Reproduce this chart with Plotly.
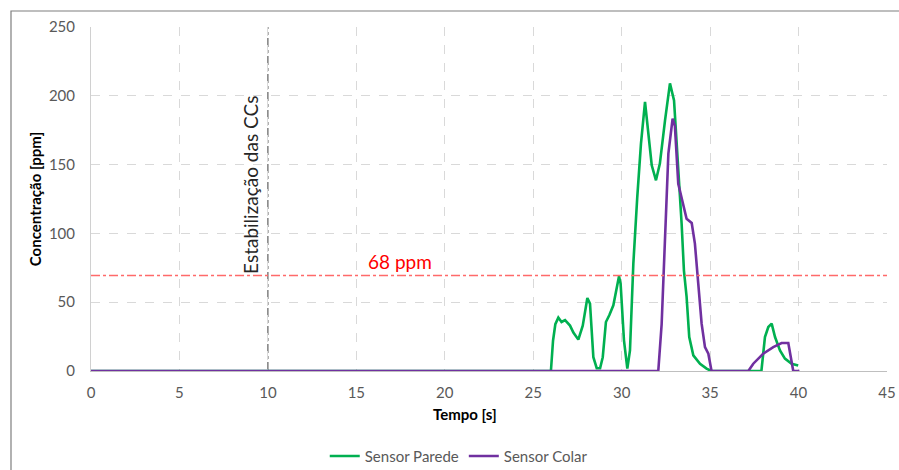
import plotly.graph_objects as go

# Data
t_parede = [0, 26.0, 26.12, 26.25, 26.42, 26.6, 26.8, 27.08, 27.27, 27.55, 27.8, 28.06, 28.21,
            28.4, 28.59, 28.78, 28.93, 29.11, 29.3, 29.53, 29.85, 29.94, 30.13, 30.32, 30.47,
            30.66, 30.88, 31.09, 31.32, 31.5, 31.7, 31.94, 32.16, 32.45, 32.73, 32.96, 33.2,
            33.39, 33.52, 33.67, 33.82, 34.05, 34.43, 34.8, 35.08, 37.9, 38.1, 38.29, 38.48,
            38.67, 38.95, 39.23, 39.61, 39.98]
c_parede = [0, 0, 22, 34, 38.8, 35.6, 37, 33, 28, 22.8, 33, 53, 49,
            10, 2, 2, 10, 35.6, 40.5, 47.7, 68.8, 63.5, 22.3, 1.7, 15,
            78, 126, 165, 195.5, 175, 149.5, 138.6, 150.7, 182, 209, 196.7, 150.7,
            107, 73, 54, 24.7, 11.4, 5.3, 1.7, 0, 0, 24.7, 32, 34.4,
            24.7, 15, 9, 5.3, 4]

t_colar = [0, 32.07, 32.26, 32.45, 32.64, 32.88, 33.01, 33.2, 33.48, 33.67, 33.96, 34.14,
           34.33, 34.52, 34.71, 34.9, 35.08, 37.16, 37.44, 38.0, 38.57, 39.04, 39.42, 39.7, 40.05]
c_colar = [0, 0, 34, 102, 158, 183.4, 178, 136, 121.6, 110.7, 107.6, 92.6,
           63.5, 34.4, 17.4, 12.6, 0, 0, 5.3, 12.6, 17.4, 20.3, 20.3, 0, 0]

limite_ppm = 69.4
limite_label = "68 ppm"
t_estabilizacao = 10
x_ticks = [0, 5, 10, 15, 20, 25, 30, 35, 40, 45]
y_ticks = [0, 50, 100, 150, 200, 250]

FONT = "Lato, 'Open Sans', sans-serif"
TICK_COLOR = "#595959"

fig = go.Figure()
fig.add_trace(go.Scatter(x=t_parede, y=c_parede, mode="lines", name="Sensor Parede",
                         line=dict(color="#00B050", width=2.6)))
fig.add_trace(go.Scatter(x=t_colar, y=c_colar, mode="lines", name="Sensor Colar",
                         line=dict(color="#7030A0", width=2.6)))

# reference lines
fig.add_shape(type="line", xref="x", yref="y", x0=0, x1=45, y0=limite_ppm, y1=limite_ppm,
              line=dict(color="#FF6A6A", width=1.3, dash="dashdot"), layer="above")
fig.add_shape(type="line", xref="x", yref="y", x0=t_estabilizacao, x1=t_estabilizacao, y0=0, y1=250,
              line=dict(color="#606060", width=1.2, dash="dashdot"), layer="below")

# outer frame (chart area border)
fig.add_shape(type="rect", xref="paper", yref="paper", x0=-80/796, x1=1.2, y0=-1.0, y1=1 + 16/344,
              line=dict(color="#7f7f7f", width=1.2), fillcolor="rgba(0,0,0,0)")

fig.add_annotation(x=t_estabilizacao, y=limite_ppm, xref="x", yref="y",
                   text="Estabilização das CCs", showarrow=False, textangle=-90,
                   xanchor="right", yanchor="bottom", xshift=-4, yshift=0,
                   font=dict(family=FONT, size=19, color="#262626"))
fig.add_annotation(x=15.55, y=limite_ppm, xref="x", yref="y", text=limite_label, showarrow=False,
                   xanchor="left", yanchor="bottom", yshift=1,
                   font=dict(family=FONT, size=19, color="#FF0000"))

# x-axis title (offset left as in the reference)
fig.add_annotation(x=(465 - 91) / 796, y=-0.125, xref="paper", yref="paper",
                   text="<b>Tempo [s]</b>", showarrow=False, xanchor="center", yanchor="middle",
                   font=dict(family=FONT, size=15, color="#000000"))

fig.update_layout(
    width=899, height=470,
    margin=dict(l=91, r=12, t=27, b=99, autoexpand=False),
    paper_bgcolor="white", plot_bgcolor="white",
    font=dict(family=FONT, size=15, color=TICK_COLOR),
    showlegend=True,
    legend=dict(orientation="h", x=0.462, xanchor="center", y=-0.2, yanchor="top",
                font=dict(family=FONT, size=15, color=TICK_COLOR), itemwidth=30,
                tracegroupgap=0),
)
fig.update_xaxes(range=[0, 45], tickvals=x_ticks, ticktext=[str(v) for v in x_ticks],
                 showgrid=True, gridcolor="#D9D9D9", griddash="dash", gridwidth=1,
                 zeroline=False, showline=True, linecolor="#BFBFBF", linewidth=1,
                 ticks="", ticklabelstandoff=8, automargin=False)
fig.update_yaxes(range=[0, 250], tickvals=y_ticks, ticktext=[str(v) for v in y_ticks],
                 showgrid=True, gridcolor="#D9D9D9", griddash="dash", gridwidth=1,
                 zeroline=False, showline=True, linecolor="#D0D0D0", linewidth=1,
                 ticks="", ticklabelstandoff=12, automargin=False,
                 title=dict(text="<b>Concentração [ppm]</b>", font=dict(family=FONT, size=15, color="#000000"),
                            standoff=3))

fig.write_html("out.html", config={"displayModeBar": False},
               post_script="document.body.style.margin='0';document.body.style.padding='0';")
